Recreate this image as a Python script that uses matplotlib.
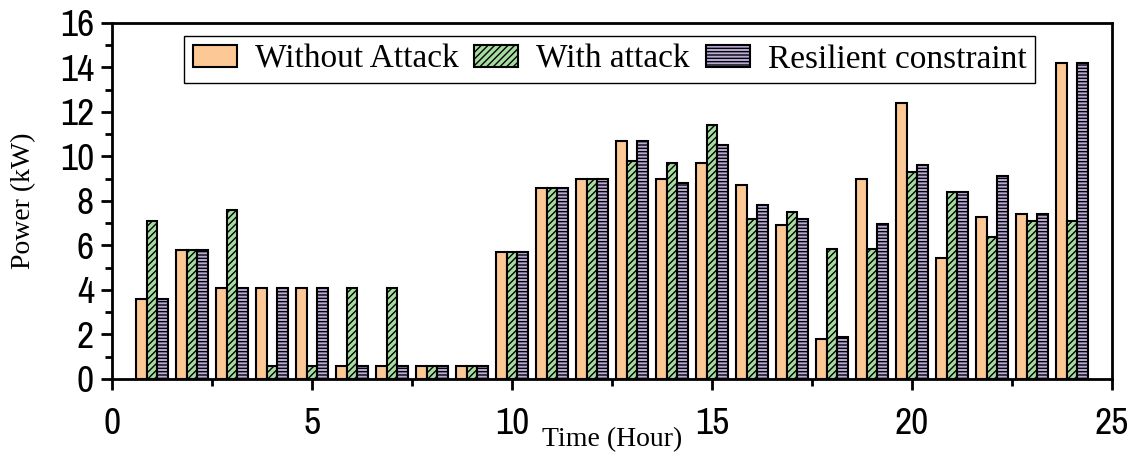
import matplotlib
matplotlib.use('Agg')
import matplotlib.pyplot as plt
import numpy as np
from matplotlib.ticker import MultipleLocator

plt.rcParams['hatch.linewidth'] = 1.0

hours = np.arange(1, 25)
without_attack = [3.6, 5.8, 4.1, 4.1, 4.1, 0.6, 0.6, 0.6, 0.6, 5.7, 8.6, 9.0,
                  10.7, 9.0, 9.7, 8.7, 6.9, 1.8, 9.0, 12.4, 5.45, 7.3, 7.4, 14.2]
with_attack = [7.1, 5.8, 7.6, 0.6, 0.6, 4.1, 4.1, 0.6, 0.6, 5.7, 8.6, 9.0,
               9.8, 9.7, 11.4, 7.2, 7.5, 5.85, 5.85, 9.3, 8.4, 6.4, 7.1, 7.1]
resilient = [3.6, 5.8, 4.1, 4.1, 4.1, 0.6, 0.6, 0.6, 0.6, 5.7, 8.6, 9.0,
             10.7, 8.8, 10.5, 7.8, 7.2, 1.9, 6.95, 9.6, 8.4, 9.1, 7.4, 14.2]
labels = ['Without Attack', 'With attack', 'Resilient constraint']

fig = plt.figure(figsize=(11.36, 4.58), dpi=100)
ax = fig.add_axes([0.0986, 0.1725, 0.8803, 0.7775])

w = 0.27
ax.bar(hours - w, without_attack, width=w, color='#FCC896', edgecolor='black', linewidth=1.5, label=labels[0])
ax.bar(hours, with_attack, width=w, color='#A6DCA0', edgecolor='black', linewidth=1.5, hatch='/////', label=labels[1])
ax.bar(hours + w, resilient, width=w, color='#B9A9D6', edgecolor='black', linewidth=1.5, hatch='-----', label=labels[2])

ax.set_xlim(0, 25)
ax.set_ylim(0, 16)
ax.xaxis.set_major_locator(MultipleLocator(5))
ax.xaxis.set_minor_locator(MultipleLocator(2.5))
ax.yaxis.set_major_locator(MultipleLocator(2))
ax.yaxis.set_minor_locator(MultipleLocator(1))
ax.tick_params(which='major', direction='out', length=8, width=2, labelsize=27)
ax.tick_params(axis='x', which='major', pad=12)
ax.tick_params(axis='y', which='major', pad=5)
ax.tick_params(which='minor', direction='out', length=5, width=2)
for t in ax.get_xticklabels() + ax.get_yticklabels():
    t.set_fontfamily(['Archivo Narrow', 'Liberation Sans'])
for s in ax.spines.values():
    s.set_linewidth(2)

ax.set_xlabel('Time (Hour)', fontfamily='Liberation Serif', fontsize=20, labelpad=-9)
ax.set_ylabel('Power (kW)', fontfamily='Liberation Serif', fontsize=20, labelpad=17)

leg = ax.legend(ncol=3, loc='upper right', bbox_to_anchor=(0.923, 0.9635),
                prop={'family': 'Liberation Serif', 'size': 24},
                fancybox=False, edgecolor='black', framealpha=1,
                handlelength=1.32, handleheight=0.66, columnspacing=0.48,
                handletextpad=0.54, borderpad=0.25, borderaxespad=0)
leg.get_frame().set_linewidth(1.0)

plt.savefig('out.png', dpi=100)
